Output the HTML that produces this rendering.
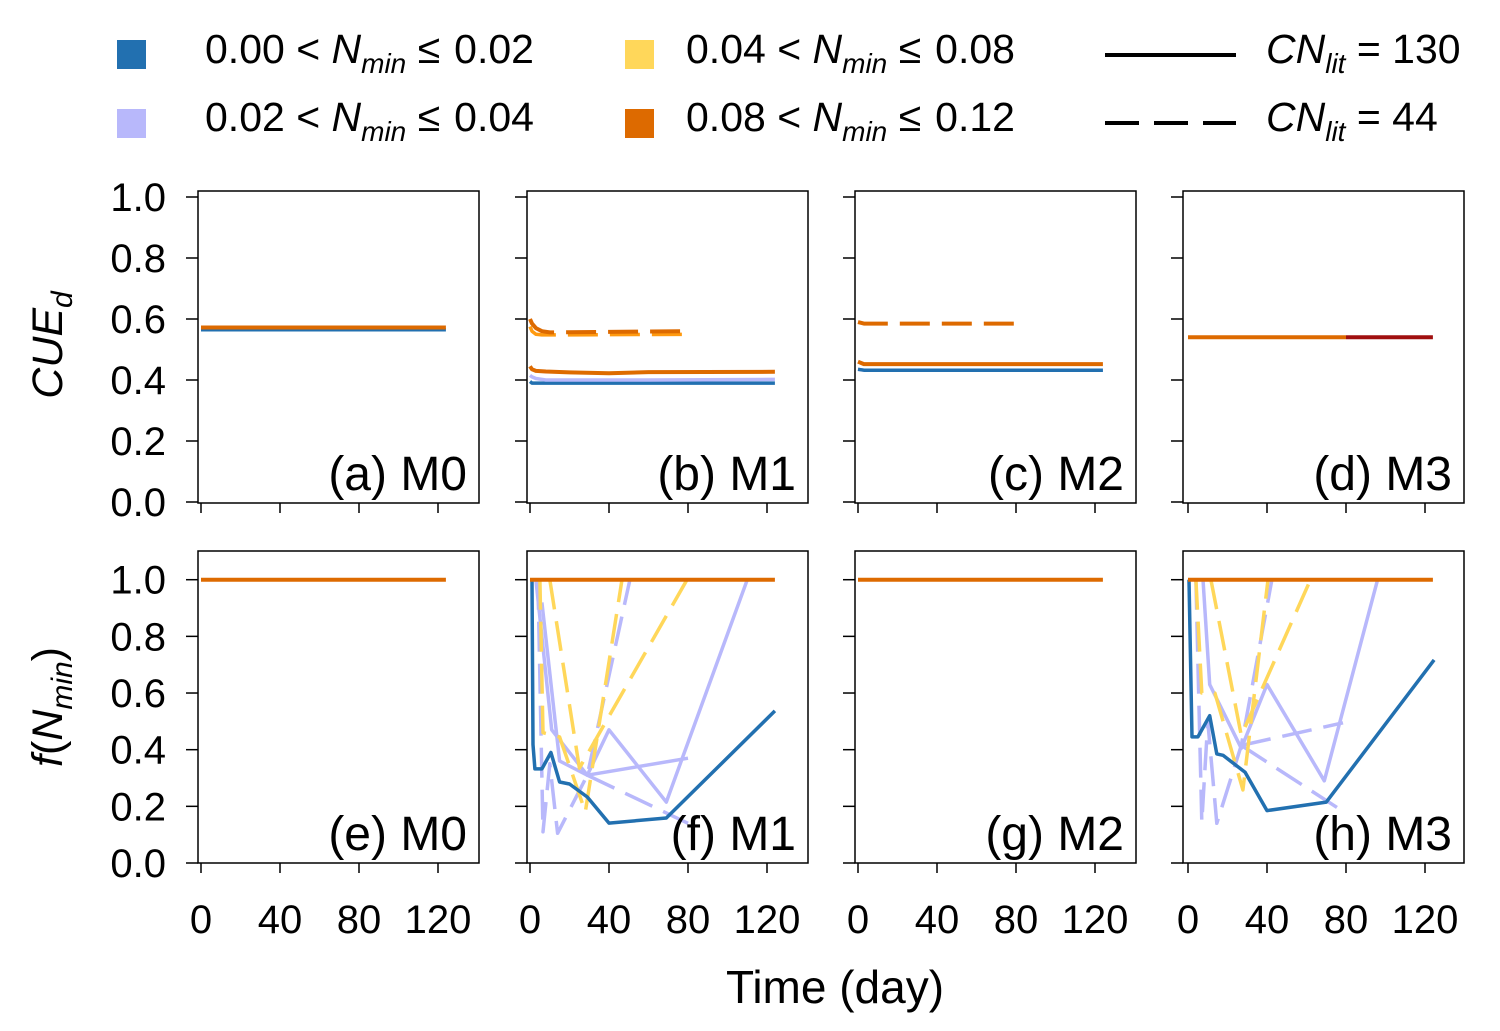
<!DOCTYPE html>
<html><head><meta charset="utf-8">
<style>
html,body{margin:0;padding:0;background:#fff;}
svg{display:block;font-family:"Liberation Sans",Arial,sans-serif;}
</style></head>
<body>
<svg id="chart" width="1500" height="1031" viewBox="0 0 1500 1031" xmlns="http://www.w3.org/2000/svg">
<g font-size="41">
  <rect x="117" y="40" width="29" height="29" fill="#2270b0"/>
  <text x="205" y="63">0.00 &lt; <tspan font-style="italic">N</tspan><tspan font-style="italic" font-size="28" dy="10">min</tspan><tspan dy="-10"> ≤</tspan><tspan dx="14">0.02</tspan></text>
  <rect x="117" y="109" width="29" height="29" fill="#b8b8fb"/>
  <text x="205" y="131">0.02 &lt; <tspan font-style="italic">N</tspan><tspan font-style="italic" font-size="28" dy="10">min</tspan><tspan dy="-10"> ≤</tspan><tspan dx="14">0.04</tspan></text>
  <rect x="625" y="40" width="29" height="29" fill="#ffd75a"/>
  <text x="686" y="63">0.04 &lt; <tspan font-style="italic">N</tspan><tspan font-style="italic" font-size="28" dy="10">min</tspan><tspan dy="-10"> ≤</tspan><tspan dx="14">0.08</tspan></text>
  <rect x="625" y="109" width="29" height="29" fill="#dd6a00"/>
  <text x="686" y="131">0.08 &lt; <tspan font-style="italic">N</tspan><tspan font-style="italic" font-size="28" dy="10">min</tspan><tspan dy="-10"> ≤</tspan><tspan dx="14">0.12</tspan></text>
  <line x1="1105" y1="55" x2="1236" y2="55" stroke="#000" stroke-width="4"/>
  <text x="1266" y="63"><tspan font-style="italic">CN</tspan><tspan font-style="italic" font-size="28" dy="10">lit</tspan><tspan dy="-10"> = 130</tspan></text>
  <line x1="1105" y1="123" x2="1236" y2="123" stroke="#000" stroke-width="4" stroke-dasharray="34,15"/>
  <text x="1266" y="131"><tspan font-style="italic">CN</tspan><tspan font-style="italic" font-size="28" dy="10">lit</tspan><tspan dy="-10"> = 44</tspan></text>
</g>
<text transform="translate(62,345) rotate(-90)" text-anchor="middle" font-size="43" font-style="italic">CUE<tspan font-size="30" dy="10">d</tspan></text>
<text transform="translate(62,707) rotate(-90)" text-anchor="middle" font-size="43"><tspan font-style="italic">f</tspan>(<tspan font-style="italic">N</tspan><tspan font-style="italic" font-size="30" dy="10">min</tspan><tspan dy="-10">)</tspan></text>
<text x="835" y="1003" text-anchor="middle" font-size="46">Time (day)</text>
<g id="panels"></g>
</svg>
<script>
const xTicks = [0, 40, 80, 120];
const yTicksTop = [0.0, 0.2, 0.4, 0.6, 0.8, 1.0];
const yTicksBottom = [0.0, 0.2, 0.4, 0.6, 0.8, 1.0];
const panelLabels = ["(a) M0","(b) M1","(c) M2","(d) M3","(e) M0","(f) M1","(g) M2","(h) M3"];
const C = {blue:"#2270b0", lav:"#b8b8fb", yel:"#ffd75a", org:"#dd6a00", org2:"#ff9a10", red:"#a01010"};

const aDays = [0, 124]; const aBlue = [0.565, 0.565]; const aOrg = [0.572, 0.572];
const bDashDays = [0, 1, 3, 6, 10, 79]; const bDashOrg = [0.60, 0.585, 0.57, 0.56, 0.556, 0.56]; const bDashYel = [0.575, 0.56, 0.55, 0.548, 0.548, 0.55];
const bDays = [0, 1, 3, 8, 20, 40, 60, 124]; const bOrg = [0.445, 0.435, 0.43, 0.428, 0.425, 0.422, 0.426, 0.427];
const bLav = [0.415, 0.41, 0.405, 0.40, 0.40, 0.40, 0.40, 0.402]; const bBlue = [0.395, 0.39, 0.39, 0.39, 0.39, 0.39, 0.39, 0.39];
const cDashDays = [0, 3, 79]; const cDashOrg = [0.59, 0.585, 0.585];
const cDays = [0, 3, 124]; const cOrg = [0.46, 0.452, 0.452]; const cBlue = [0.435, 0.432, 0.432];
const dDays1 = [0, 80]; const dOrg = [0.54, 0.54]; const dDays2 = [80, 124]; const dRed = [0.54, 0.54];

const flatDays = [0, 124]; const flatVals = [1.0, 1.0];
const fBlueDays = [1, 1.5, 2.5, 6, 10.6, 15, 20, 29, 40, 69, 124];
const fBlueVals = [1.0, 0.418, 0.332, 0.332, 0.39, 0.286, 0.279, 0.233, 0.141, 0.159, 0.537];
const fLavDays = [3, 11, 29, 40, 69, 110]; const fLavVals = [1.0, 0.47, 0.31, 0.47, 0.215, 1.0];
const fLavSDays = [6, 15, 29, 80]; const fLavSVals = [0.92, 0.36, 0.31, 0.37];
const fLavDDays = [4, 6.6, 10, 14, 29, 50.6]; const fLavDVals = [1.0, 0.11, 0.35, 0.105, 0.31, 1.0];
const fLavD2Days = [29, 80]; const fLavD2Vals = [0.31, 0.14];
const fYelDays = [5, 6.6, 15, 28, 46.6]; const fYelVals = [1.0, 0.46, 0.445, 0.18, 1.0];
const fYel2Days = [10, 25, 79.5]; const fYel2Vals = [1.0, 0.335, 1.0];
const hBlueDays = [0.5, 2, 5, 11, 14.6, 17.7, 28.9, 40, 70, 124.6];
const hBlueVals = [1.0, 0.445, 0.445, 0.52, 0.385, 0.38, 0.32, 0.185, 0.215, 0.717];
const hLavDays = [7.6, 11, 27, 40, 69, 96]; const hLavVals = [1.0, 0.63, 0.405, 0.63, 0.29, 1.0];
const hLavDDays = [4, 7, 10, 14.6, 27, 42.5]; const hLavDVals = [1.0, 0.145, 0.5, 0.14, 0.415, 1.0];
const hLavD2Days = [27, 78.5]; const hLavD2Vals = [0.415, 0.495];
const hLavD3Days = [27, 79]; const hLavD3Vals = [0.415, 0.18];
const hYelDays = [4, 7, 13.6, 27.8, 40.5]; const hYelVals = [1.0, 0.6, 0.6, 0.258, 1.0];
const hYel2Days = [11.6, 27, 62]; const hYel2Vals = [1.0, 0.45, 1.0];

const panelX = [198, 527, 855, 1183];
const x0 = [201, 530, 858, 1188];
const pxPerDay = 1.975;
const rowTop = {y0:191, y1:503, base:502, scale:305, ticks:yTicksTop};
const rowBot = {y0:551, y1:863, base:863, scale:283.3, ticks:yTicksBottom};

const series = [
 [ {c:C.blue,d:0,x:aDays,y:aBlue},{c:C.org,d:0,x:aDays,y:aOrg} ],
 [ {c:C.org2,d:1,x:bDashDays,y:bDashYel},{c:C.org,d:1,x:bDashDays,y:bDashOrg},{c:C.blue,d:0,x:bDays,y:bBlue},{c:C.lav,d:0,x:bDays,y:bLav},{c:C.org,d:0,x:bDays,y:bOrg} ],
 [ {c:C.org,d:1,x:cDashDays,y:cDashOrg},{c:C.lav,d:0,x:cDays,y:cBlue},{c:C.blue,d:0,x:cDays,y:cBlue},{c:C.org,d:0,x:cDays,y:cOrg} ],
 [ {c:C.org,d:0,x:dDays1,y:dOrg},{c:C.red,d:0,x:dDays2,y:dRed} ],
 [ {c:C.org,d:0,x:flatDays,y:flatVals} ],
 [ {c:C.lav,d:1,x:fLavDDays,y:fLavDVals},{c:C.lav,d:1,x:fLavD2Days,y:fLavD2Vals},{c:C.lav,d:0,x:fLavSDays,y:fLavSVals},{c:C.lav,d:0,x:fLavDays,y:fLavVals},{c:C.yel,d:1,x:fYelDays,y:fYelVals},{c:C.yel,d:1,x:fYel2Days,y:fYel2Vals},{c:C.blue,d:0,x:fBlueDays,y:fBlueVals},{c:C.org,d:0,x:flatDays,y:flatVals} ],
 [ {c:C.org,d:0,x:flatDays,y:flatVals} ],
 [ {c:C.lav,d:1,x:hLavDDays,y:hLavDVals},{c:C.lav,d:1,x:hLavD2Days,y:hLavD2Vals},{c:C.lav,d:1,x:hLavD3Days,y:hLavD3Vals},{c:C.lav,d:0,x:hLavDays,y:hLavVals},{c:C.yel,d:1,x:hYelDays,y:hYelVals},{c:C.yel,d:1,x:hYel2Days,y:hYel2Vals},{c:C.blue,d:0,x:hBlueDays,y:hBlueVals},{c:C.org,d:0,x:flatDays,y:flatVals} ]
];

const NS = "http://www.w3.org/2000/svg";
const root = document.getElementById("panels");
function mk(tag, attrs, parent){ const e=document.createElementNS(NS,tag); for(const k in attrs) e.setAttribute(k,attrs[k]); parent.appendChild(e); return e; }

for(let p=0;p<8;p++){
  const col=p%4, row=p<4?rowTop:rowBot;
  const xs = d => x0[col] + d*pxPerDay;
  const ys = v => row.base - v*row.scale;
  const g = mk("g",{},root);
  
  
  const frame = mk("rect",{x:panelX[col],y:row.y0,width:281,height:row.y1-row.y0,fill:"none",stroke:"#000","stroke-width":1.5},g);
  
  
  row.ticks.forEach(t=>{
    const y=ys(t);
    const tk=mk("line",{x1:panelX[col]-12,x2:panelX[col],y1:y,y2:y,stroke:"#000","stroke-width":1.5},g);
    
    
    if(col===0){
      const tl=mk("text",{x:166,y:y+14,"text-anchor":"end","font-size":40},g);
      tl.textContent=t.toFixed(1);
      
      
    }
  });
  xTicks.forEach(t=>{
    const x=xs(t);
    const tk=mk("line",{x1:x,x2:x,y1:row.y1,y2:row.y1+10,stroke:"#000","stroke-width":1.5},g);
    
    
    if(p>=4){
      const tl=mk("text",{x:x,y:933,"text-anchor":"middle","font-size":40},g);
      tl.textContent=String(t);
      
      
    }
  });
  series[p].forEach((s,i)=>{
    const pts=s.x.map((d,k)=>xs(d).toFixed(1)+","+ys(s.y[k]).toFixed(1)).join(" ");
    const a={points:pts,fill:"none",stroke:s.c,"stroke-width":s.c===C.org||s.c===C.red?4:3.5,"stroke-linejoin":"round"};
    if(s.d) a["stroke-dasharray"]="30,12";
    const pl=mk("polyline",a,g);
    
    
  });
  const lb=mk("text",{x:panelX[col]+269,y:row.y1-13,"text-anchor":"end","font-size":48},g);
  lb.textContent=panelLabels[p];
  
  
}
</script>
</body></html>
